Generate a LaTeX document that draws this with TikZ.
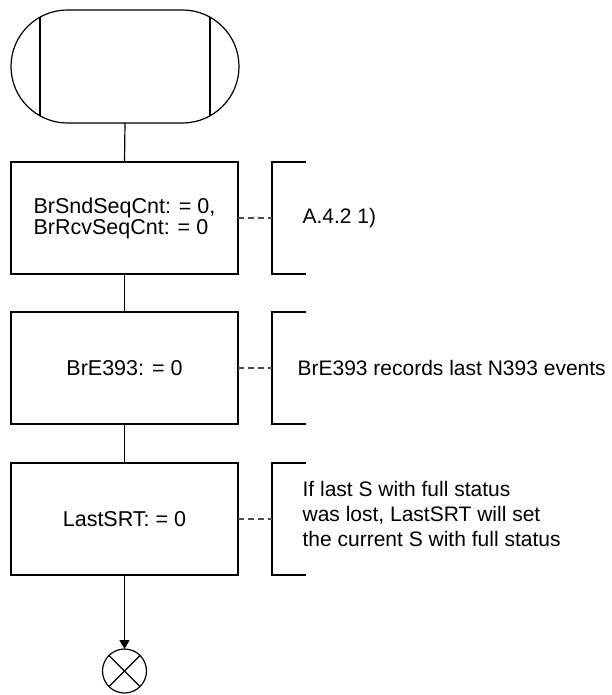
\documentclass[tikz,border=0pt]{standalone}
\usepackage{fontspec}
\setmainfont{Liberation Sans}
\usetikzlibrary{shapes.misc,arrows.meta}
\begin{document}
\begin{tikzpicture}[x=1bp,y=-1bp,line width=1.2bp,
  box/.style={draw, minimum width=227bp, minimum height=112bp, inner sep=0pt, outer sep=0pt},
  note/.style={dash pattern=on 6bp off 4bp, draw=black!70},
  brk/.style={draw},
  txt/.style={font=\fontsize{21.5bp}{21bp}\selectfont, align=left},
  ctxt/.style={font=\fontsize{21bp}{25bp}\selectfont, align=left, anchor=west, inner sep=0pt}]
\useasboundingbox (0,0) rectangle (612,695);
% terminator
\node[draw, rounded rectangle, minimum width=228bp, minimum height=113bp, inner sep=0pt, outer sep=0pt] (start) at (125,66.5) {};
\draw (40,17.2) -- (40,115.8);
\draw (210,17.2) -- (210,115.8);
% boxes
\node[box, txt] (b1) at (124.5,218) {BrSndSeqCnt: = 0,\\BrRcvSeqCnt: = 0};
\node[box, txt] (b2) at (124.5,368) {BrE393: = 0};
\node[box, txt] (b3) at (124.5,519) {LastSRT: = 0};
\node[draw, circle, minimum size=44bp, inner sep=0pt, outer sep=0pt] (end) at (124.5,671) {};
\draw (end.north west) -- (end.south east);
\draw (end.north east) -- (end.south west);
% connectors
\draw (start.south) -- (b1.north);
\draw (b1.south) -- (b2.north);
\draw (b2.south) -- (b3.north);
\draw[-{Triangle[length=9bp,width=10bp]}] (b3.south) -- (end.north);
% comments
\coordinate (k1) at (272,218);
\coordinate (k2) at (272,368);
\coordinate (k3) at (272,519);
\draw[brk] (306,162) -- (272,162) -- (272,274) -- (306,274);
\draw[brk] (306,312) -- (272,312) -- (272,424) -- (306,424);
\draw[brk] (306,463) -- (272,463) -- (272,575) -- (306,575);
\draw[note] (b1.east) -- (k1);
\draw[note] (b2.east) -- (k2);
\draw[note] (b3.east) -- (k3);
\node[ctxt] (n1) at (302,218) {A.4.2 1)};
\node[ctxt] (n2) at (297,368) {BrE393 records last N393 events};
\node[ctxt] (n3) at (302,514) {If last S with full status\\was lost, LastSRT will set\\the current S with full status};
\end{tikzpicture}
\end{document}
